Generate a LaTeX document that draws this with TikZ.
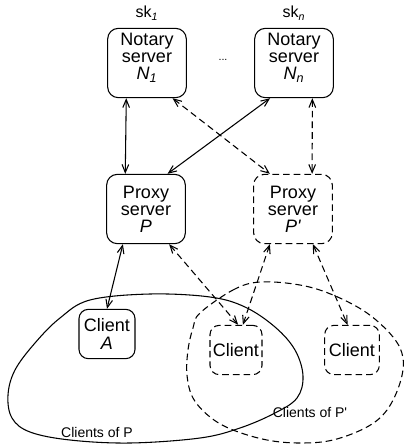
\documentclass[tikz,border=0pt]{standalone}
\usepackage{fontspec}
\setmainfont{Liberation Sans}
\usetikzlibrary{arrows.meta,positioning,calc}

\begin{document}
\begin{tikzpicture}[x=0.75pt, y=-0.75pt,
    line width=0.8pt,
    every node/.style={font=\fontsize{13.5}{12.8}\selectfont},
    server/.style={draw, rounded corners=8pt, align=center, inner sep=1pt,
                   minimum width=59pt, minimum height=52pt},
    client/.style={draw, rounded corners=7pt, align=center, inner sep=1pt,
                   minimum width=42pt, minimum height=37pt},
    ghost/.style={dash pattern=on 5pt off 3pt},
    link/.style={{Straight Barb[length=6pt,width=5pt]}-{Straight Barb[length=6pt,width=5pt]}},
    tag/.style={font=\fontsize{10.5}{11}\selectfont}]
    \useasboundingbox (0,0) rectangle (404,447);

    % Notary servers
    \node[server] (N1) at (147,63) {Notary\\server\\\textit{N\textsubscript{1}}\\[-3pt]\mbox{}};
    \node[server] (Nn) at (294,63) {Notary\\server\\\textit{N\textsubscript{n}}\\[-3pt]\mbox{}};
    \node[font=\fontsize{12}{12}\selectfont, above=2pt of N1] (sk1) {sk\textsubscript{\textit{1}}};
    \node[font=\fontsize{12}{12}\selectfont, above=2pt of Nn] (skn) {sk\textsubscript{\textit{n}}};
    \node[font=\fontsize{8}{8}\selectfont] (dots) at (223,60) {...};

    % Proxy servers
    \node[server] (P) at (146,209) {Proxy\\server\\\textit{P}};
    \node[server, ghost] (Pp) at (293,209) {Proxy\\server\\\textit{P\textquotesingle}};

    % Clients
    \node[client] (A) at (107,334) {Client\\\textit{A}};
    \node[client, ghost, minimum width=39pt] (C1) at (236,350) {Client};
    \node[client, ghost, minimum width=41pt] (C2) at (352,350) {Client};

    % Client groups
    \draw plot[smooth cycle, tension=0.6] coordinates {(90,300) (60,318) (35,343) (15,370)
        (8,395) (12,418) (30,432) (70,440) (130,443) (200,438) (240,428) (275,413)
        (297,398) (303,376) (295,350) (275,327) (245,307) (210,297) (150,294)};
    \draw[ghost] plot[smooth cycle, tension=0.6] coordinates {(200,313) (233,290) (260,282)
        (300,285) (333,295) (367,313) (393,337) (403,358) (400,383) (387,410) (367,427)
        (333,440) (300,443) (267,440) (233,430) (210,417) (193,398) (187,375) (188,350)
        (193,328)};
    \node[tag] (gP) at (97,432) {Clients of P};
    \node[tag] (gPp) at (310,412) {Clients of P\textquotesingle};

    % Links notary <-> proxy
    \draw[link] ($(N1.south west)!.24!(N1.south east)$) -- ($(P.north west)!.24!(P.north east)$);
    \draw[link] ($(Nn.south west)!.2!(Nn.south east)$) -- ($(P.north west)!.77!(P.north east)$);
    \draw[link, ghost] ($(N1.south west)!.82!(N1.south east)$) -- ($(Pp.north west)!.21!(Pp.north east)$);
    \draw[link, ghost] ($(Nn.south west)!.73!(Nn.south east)$) -- ($(Pp.north west)!.74!(Pp.north east)$);

    % Links proxy <-> client
    \draw[link] ($(P.south west)!.21!(P.south east)$) -- (A.north);
    \draw[link, ghost] ($(P.south west)!.79!(P.south east)$) -- ($(C1.north west)!.54!(C1.north east)$);
    \draw[link, ghost] ($(Pp.south west)!.21!(Pp.south east)$) -- ($(C1.north west)!.63!(C1.north east)$);
    \draw[link, ghost] ($(Pp.south west)!.75!(Pp.south east)$) -- ($(C2.north west)!.42!(C2.north east)$);
\end{tikzpicture}
\end{document}
